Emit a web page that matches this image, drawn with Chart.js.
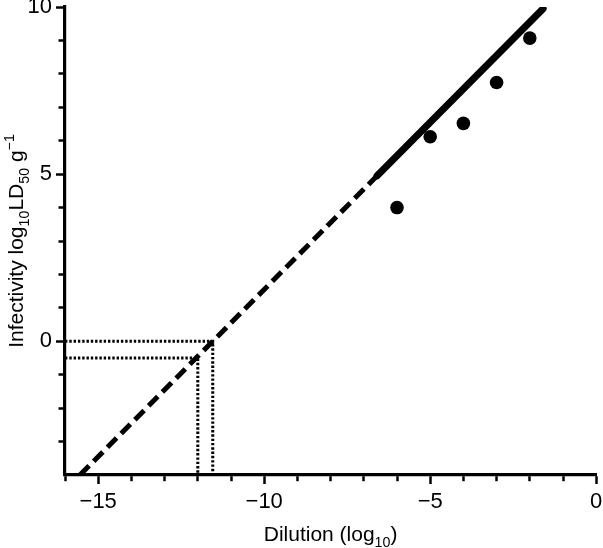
<!DOCTYPE html>
<html>
<head>
<meta charset="utf-8">
<script src="https://cdn.jsdelivr.net/npm/chart.js@4.4.1/dist/chart.umd.min.js"></script>
<style>
  html, body { margin: 0; padding: 0; background: #ffffff; }
  #wrap { width: 603px; height: 548px; position: relative; }
</style>
</head>
<body>
<div id="wrap"><canvas id="c" width="603" height="548"></canvas></div>
<script>
// ---- data ----
const dilution = [-6, -5, -4, -3, -2];
const infectivity = [4.0, 6.12, 6.52, 7.74, 9.07];

const solidFitX = [-6.6, -1.6];
const solidFitY = [4.95, 9.95];
const dashedFitX = [-15.55, -6.6];
const dashedFitY = [-4.0, 4.95];

const upperDotX = [-16, -11.55, -11.55];
const upperDotY = [0, 0, -4];
const lowerDotX = [-16, -12, -12];
const lowerDotY = [-0.5, -0.5, -4];

const xRange = [-16, 0];
const yRange = [-4, 10];
const xMajorTicks = [-15, -10, -5, 0];
const yMajorTicks = [0, 5, 10];

const xTitleParts = [['Dilution (log', ''], ['10', 'sub'], [')', '']];
const yTitleParts = [['Infectivity log', ''], ['10', 'sub'], ['LD', ''], ['50', 'sub'], [' g', ''], ['\u22121', 'sup']];

// ---- helpers ----
const FAM = '"Liberation Sans", Arial, Helvetica, sans-serif';
const TICK_SIZE = 22;
const TITLE_SIZE = 21;
const zip = (xs, ys) => xs.map((x, i) => ({ x: x, y: ys[i] }));
const fmt = v => (v < 0 ? '\u2212' + Math.abs(v) : String(v));

function drawRich(ctx, parts, cx, baseY, size) {
  const small = size * 0.68;
  let total = 0;
  const widths = parts.map(p => {
    ctx.font = (p[1] ? small : size) + 'px ' + FAM;
    const w = ctx.measureText(p[0]).width;
    total += w;
    return w;
  });
  let x = cx - total / 2;
  ctx.textBaseline = 'alphabetic';
  ctx.textAlign = 'left';
  parts.forEach((p, i) => {
    ctx.font = (p[1] ? small : size) + 'px ' + FAM;
    let dy = 0;
    if (p[1] === 'sub') dy = size * 0.28;
    if (p[1] === 'sup') dy = -size * 0.42;
    ctx.fillText(p[0], x, baseY + dy);
    x += widths[i];
  });
}

const richTitles = {
  id: 'richTitles',
  afterDraw(chart) {
    const { ctx, chartArea } = chart;
    ctx.save();
    ctx.fillStyle = '#000';
    drawRich(ctx, xTitleParts, (chartArea.left + chartArea.right) / 2, 541, TITLE_SIZE);
    ctx.translate(23, (chartArea.top + chartArea.bottom) / 2);
    ctx.rotate(-Math.PI / 2);
    drawRich(ctx, yTitleParts, 0, 0, TITLE_SIZE);
    ctx.restore();
  }
};

const lineDs = (data, width, dash, cap) => ({
  data: data,
  showLine: true,
  borderColor: '#000',
  backgroundColor: '#000',
  borderWidth: width,
  borderDash: dash,
  borderCapStyle: cap,
  pointRadius: 0,
  pointHoverRadius: 0,
  tension: 0,
  fill: false
});

new Chart(document.getElementById('c'), {
  type: 'scatter',
  data: {
    datasets: [
      {
        data: zip(dilution, infectivity),
        showLine: false,
        pointRadius: 6.8,
        pointHoverRadius: 6.8,
        pointBackgroundColor: '#000',
        pointBorderWidth: 0,
        backgroundColor: '#000',
        borderColor: '#000'
      },
      lineDs(zip(solidFitX, solidFitY), 7, [], 'round'),
      lineDs(zip(dashedFitX, dashedFitY), 5, [13, 6.5], 'butt'),
      lineDs(zip(upperDotX, upperDotY), 3, [2.4, 1.9], 'butt'),
      lineDs(zip(lowerDotX, lowerDotY), 3, [2.4, 1.9], 'butt')
    ]
  },
  options: {
    responsive: false,
    animation: false,
    devicePixelRatio: 1,
    layout: { padding: { top: 7, right: 6, left: 0, bottom: 0 } },
    plugins: { legend: { display: false }, tooltip: { enabled: false }, title: { display: false } },
    scales: {
      x: {
        type: 'linear',
        min: xRange[0],
        max: xRange[1],
        afterFit(scale) { scale.height = 73; scale.paddingLeft = 0; scale.paddingRight = 0; },
        ticks: {
          stepSize: 1,
          autoSkip: false,
          maxRotation: 0,
          color: '#000',
          padding: 5,
          font: { family: FAM, size: TICK_SIZE },
          callback: v => (xMajorTicks.includes(v) ? fmt(v) : '')
        },
        grid: {
          drawOnChartArea: false,
          drawTicks: true,
          tickLength: 9,
          tickWidth: 2.5,
          tickColor: '#000',
          tickBorderDash: ctx => (ctx.tick && xMajorTicks.includes(ctx.tick.value) ? [] : [5, 100])
        },
        border: { display: true, color: '#000', width: 3.2 },
        title: { display: false }
      },
      y: {
        type: 'linear',
        min: yRange[0],
        max: yRange[1],
        afterFit(scale) { scale.width = 65; scale.paddingTop = 0; scale.paddingBottom = 0; },
        ticks: {
          stepSize: 1,
          autoSkip: false,
          color: '#000',
          padding: 4,
          font: { family: FAM, size: TICK_SIZE },
          callback: v => (yMajorTicks.includes(v) ? fmt(v) : '')
        },
        grid: {
          drawOnChartArea: false,
          drawTicks: true,
          tickLength: 9,
          tickWidth: 2.5,
          tickColor: ctx => (ctx.tick && ctx.tick.value === yRange[0] ? 'rgba(0,0,0,0)' : '#000'),
          tickBorderDash: ctx => (ctx.tick && yMajorTicks.includes(ctx.tick.value) ? [] : [0, 2.5, 10, 100])
        },
        border: { display: true, color: '#000', width: 3.2 },
        title: { display: false }
      }
    }
  },
  plugins: [richTitles]
});
</script>
</body>
</html>
